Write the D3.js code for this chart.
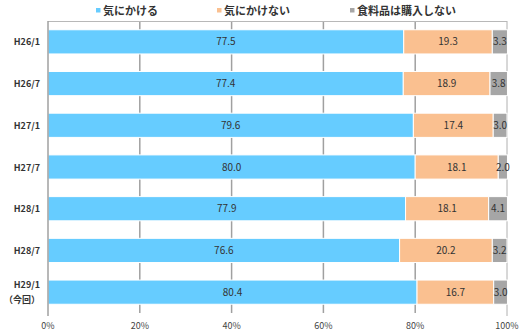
<!DOCTYPE html>
<html><head><meta charset="utf-8">
<script src="https://cdn.jsdelivr.net/npm/d3@7"></script>
<style>body{margin:0;background:#fff}svg{display:block}</style>
</head><body>
<script>
const categories = ["H26/1","H26/7","H27/1","H27/7","H28/1","H28/7","H29/1\n（今回）"];
const seriesNames = ["気にかける","気にかけない","食料品は購入しない"];
const kinikakeru = [77.5,77.4,79.6,80.0,77.9,76.6,80.4];
const kinikakenai = [19.3,18.9,17.4,18.1,18.1,20.2,16.7];
const konyuShinai = [3.3,3.8,3.0,2.0,4.1,3.2,3.0];
const xTicks = [0,20,40,60,80,100];
const colors = ["#66ccff","#fac090","#a6a6a6"];

const W=528,H=336;
const m={l:48,r:21,t:21,b:23};
const svg=d3.select("body").append("svg").attr("width",W).attr("height",H);
const font="'Noto Sans CJK JP','Noto Sans',sans-serif";
const x=d3.scaleLinear().domain([0,100]).range([m.l,W-m.r]);
const y=d3.scaleBand().domain(categories).range([m.t,H-m.b]).paddingInner(0.42).paddingOuter(0.21);

// gridlines
svg.append("g").selectAll("line").data(xTicks.slice(1,5)).join("line")
  .attr("x1",d=>x(d)).attr("x2",d=>x(d)).attr("y1",m.t).attr("y2",H-m.b)
  .attr("stroke","#a0a0a0").attr("stroke-width",1.5);
// right border
svg.append("line").attr("x1",x(100)).attr("x2",x(100)).attr("y1",m.t).attr("y2",H-m.b+3).attr("stroke","#b0b0b0");
// top border
svg.append("line").attr("x1",m.l).attr("x2",x(100)).attr("y1",m.t+0.5).attr("y2",m.t+0.5).attr("stroke","#b8b8b8");

const stack=[kinikakeru,kinikakenai,konyuShinai];
stack.forEach((vals,si)=>{
  const g=svg.append("g");
  vals.forEach((v,i)=>{
    let start=0; for(let k=0;k<si;k++) start+=stack[k][i];
    const x0=x(start), x1=x(start+v);
    g.append("rect").attr("x",x0).attr("y",y(categories[i])).attr("width",x1-x0).attr("height",y.bandwidth())
      .attr("fill",colors[si]).attr("stroke","#fff").attr("stroke-width",1);
    g.append("text").attr("x",(x0+x1)/2).attr("y",y(categories[i])+y.bandwidth()/2+3.5)
      .attr("text-anchor","middle").attr("font-family",font).attr("font-size",10)
      .attr("fill","#333").text(v.toFixed(1));
  });
});

// left axis line
svg.append("line").attr("x1",m.l).attr("x2",m.l).attr("y1",m.t).attr("y2",H-m.b+3).attr("stroke","#a0a0a0").attr("stroke-width",1.5);

// x axis labels
svg.append("g").selectAll("text").data(xTicks).join("text")
  .attr("x",d=>x(d)).attr("y",329).attr("text-anchor","middle")
  .attr("font-family",font).attr("font-size",9).attr("fill","#444").text(d=>d+"%");

// category labels
categories.forEach(c=>{
  const lines=c.split("\n");
  const cy=y(c)+y.bandwidth()/2;
  const t=svg.append("text").attr("text-anchor","end").attr("font-family",font).attr("font-size",9)
    .attr("font-weight","bold").attr("fill","#333");
  lines.forEach((ln,j)=>{
    t.append("tspan").attr("x",40).attr("y",cy+3.5+(j-(lines.length-1)/2)*15).text(ln);
  });
});

// legend
const legX=[96,217,350];
seriesNames.forEach((n,i)=>{
  svg.append("rect").attr("x",legX[i]).attr("y",8).attr("width",4.5).attr("height",4.5).attr("fill",colors[i]);
  svg.append("text").attr("x",legX[i]+7).attr("y",14.5).attr("font-family",font).attr("font-size",11)
    .attr("font-weight","bold").attr("fill","#333").text(n);
});
</script>
</body></html>
